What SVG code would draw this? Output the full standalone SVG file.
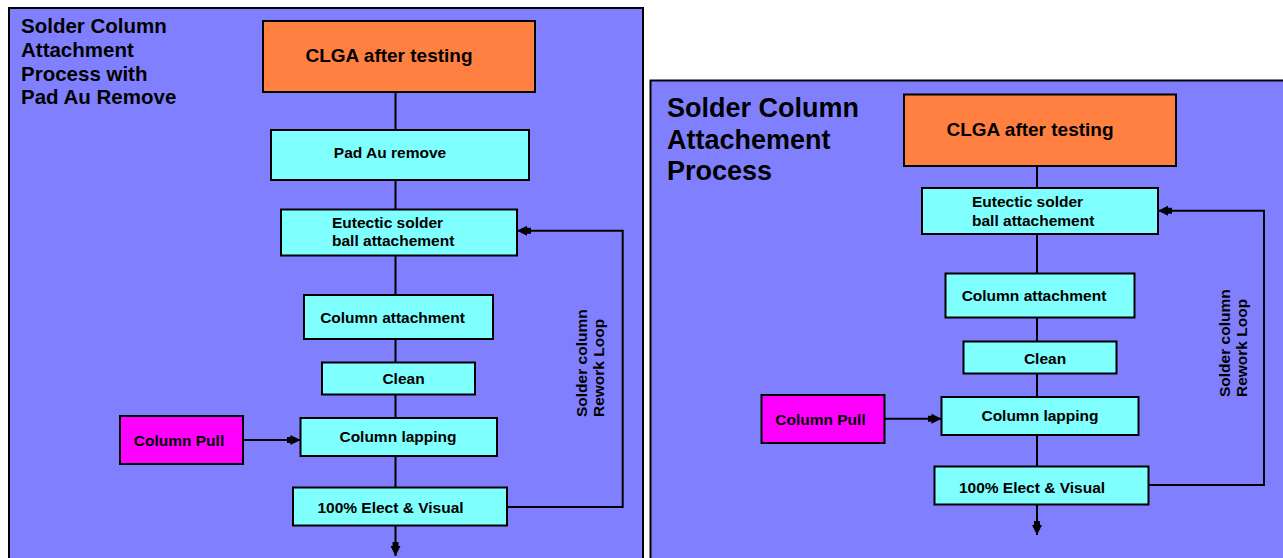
<svg xmlns="http://www.w3.org/2000/svg" width="1283" height="558" viewBox="0 0 1283 558">
<defs>
<style>
.panel{fill:#8080FF;stroke:#000;stroke-width:2}
.box{stroke:#000;stroke-width:2}
.cy{fill:#80FFFF}
.or{fill:#FF8040}
.mg{fill:#FF00FF}
.lbl{font-family:"Liberation Sans",Arial,sans-serif;font-weight:bold;font-size:15.5px;fill:#000}
.mid{text-anchor:middle}
.big{font-size:19px}
.t1{font-family:"Liberation Sans",Arial,sans-serif;font-weight:bold;font-size:20.5px;fill:#000}
.t2{font-family:"Liberation Sans",Arial,sans-serif;font-weight:bold;font-size:27px;fill:#000}
.ln{fill:none;stroke:#000;stroke-width:2}
</style>
<marker id="ah" viewBox="0 0 14 12" refX="14" refY="6" markerWidth="14" markerHeight="12" markerUnits="userSpaceOnUse" orient="auto">
<path d="M0,3 H4 V1 L14,6 L4,11 V9 H0 Z" fill="#000"/>
</marker>
</defs>

<rect class="panel" x="9" y="8" width="634" height="560"/>
<rect class="panel" x="650.5" y="80.5" width="700" height="500"/>

<g id="title-left">
<text class="t1" x="21" y="33">Solder Column</text>
<text class="t1" x="21" y="57">Attachment</text>
<text class="t1" x="21" y="81">Process with</text>
<text class="t1" x="21" y="104">Pad Au Remove</text>
</g>
<g id="title-right">
<text class="t2" x="667" y="117">Solder Column</text>
<text class="t2" x="667" y="149">Attachement</text>
<text class="t2" x="667" y="180">Process</text>
</g>

<g id="connectors">
<line class="ln" x1="395.5" y1="92" x2="395.5" y2="130"/>
<line class="ln" x1="395.5" y1="180" x2="395.5" y2="209.5"/>
<line class="ln" x1="395.5" y1="255.5" x2="395.5" y2="295"/>
<line class="ln" x1="395.5" y1="339" x2="395.5" y2="362.5"/>
<line class="ln" x1="395.5" y1="394.5" x2="395.5" y2="418"/>
<line class="ln" x1="395.5" y1="456" x2="395.5" y2="487.5"/>
<line class="ln" x1="395.5" y1="525.5" x2="395.5" y2="556" marker-end="url(#ah)"/>
<line class="ln" x1="243" y1="440" x2="300.5" y2="440" marker-end="url(#ah)"/>
<polyline class="ln" points="507,507 622.7,507 622.7,230.7 517,230.7" marker-end="url(#ah)"/>

<line class="ln" x1="1037" y1="166" x2="1037" y2="188"/>
<line class="ln" x1="1037" y1="234" x2="1037" y2="273.5"/>
<line class="ln" x1="1037" y1="317.5" x2="1037" y2="341.5"/>
<line class="ln" x1="1037" y1="373.5" x2="1037" y2="397"/>
<line class="ln" x1="1037" y1="435" x2="1037" y2="466.5"/>
<line class="ln" x1="1037" y1="504.5" x2="1037" y2="535" marker-end="url(#ah)"/>
<line class="ln" x1="884.5" y1="418.7" x2="941.5" y2="418.7" marker-end="url(#ah)"/>
<polyline class="ln" points="1148.5,485 1264,485 1264,210.7 1158,210.7" marker-end="url(#ah)"/>
</g>

<g id="loop-label-left">
<text class="lbl" transform="translate(587,417) rotate(-90)">Solder column</text>
<text class="lbl" transform="translate(604,417) rotate(-90)">Rework Loop</text>
</g>
<g id="loop-label-right">
<text class="lbl" transform="translate(1230,397) rotate(-90)">Solder column</text>
<text class="lbl" transform="translate(1247,397) rotate(-90)">Rework Loop</text>
</g>

<g id="clga-left"><rect class="box or" x="263" y="21" width="272" height="71"/><text class="lbl big mid" x="389" y="62">CLGA after testing</text></g>
<g id="padau-left"><rect class="box cy" x="271" y="130" width="258" height="50"/><text class="lbl mid" x="390" y="158">Pad Au remove</text></g>
<g id="eutectic-left"><rect class="box cy" x="281" y="209.5" width="236" height="46"/><text class="lbl" x="332" y="228">Eutectic solder</text><text class="lbl" x="332" y="246">ball attachement</text></g>
<g id="colatt-left"><rect class="box cy" x="304" y="295" width="189" height="44"/><text class="lbl mid" x="392.5" y="323">Column attachment</text></g>
<g id="clean-left"><rect class="box cy" x="322" y="362.5" width="153" height="32"/><text class="lbl mid" x="403.5" y="384">Clean</text></g>
<g id="collap-left"><rect class="box cy" x="300.5" y="418" width="196.5" height="38"/><text class="lbl mid" x="398" y="442">Column lapping</text></g>
<g id="elect-left"><rect class="box cy" x="293" y="487.5" width="214" height="38"/><text class="lbl mid" x="390.5" y="513">100% Elect &amp; Visual</text></g>
<g id="pull-left"><rect class="box mg" x="120" y="416" width="123" height="48"/><text class="lbl mid" x="179" y="446">Column Pull</text></g>

<g id="clga-right"><rect class="box or" x="904" y="94.5" width="272" height="71.5"/><text class="lbl big mid" x="1030" y="136">CLGA after testing</text></g>
<g id="eutectic-right"><rect class="box cy" x="922" y="188" width="236" height="46"/><text class="lbl" x="972" y="207">Eutectic solder</text><text class="lbl" x="972" y="226">ball attachement</text></g>
<g id="colatt-right"><rect class="box cy" x="945.5" y="273.5" width="189" height="44"/><text class="lbl mid" x="1034" y="301">Column attachment</text></g>
<g id="clean-right"><rect class="box cy" x="963.5" y="341.5" width="153" height="32"/><text class="lbl mid" x="1045" y="364">Clean</text></g>
<g id="collap-right"><rect class="box cy" x="941.5" y="397" width="197" height="38"/><text class="lbl mid" x="1040" y="421">Column lapping</text></g>
<g id="elect-right"><rect class="box cy" x="934.5" y="466.5" width="214" height="38"/><text class="lbl mid" x="1032" y="493">100% Elect &amp; Visual</text></g>
<g id="pull-right"><rect class="box mg" x="761.5" y="395" width="123" height="48"/><text class="lbl mid" x="820.5" y="424.5">Column Pull</text></g>
</svg>
